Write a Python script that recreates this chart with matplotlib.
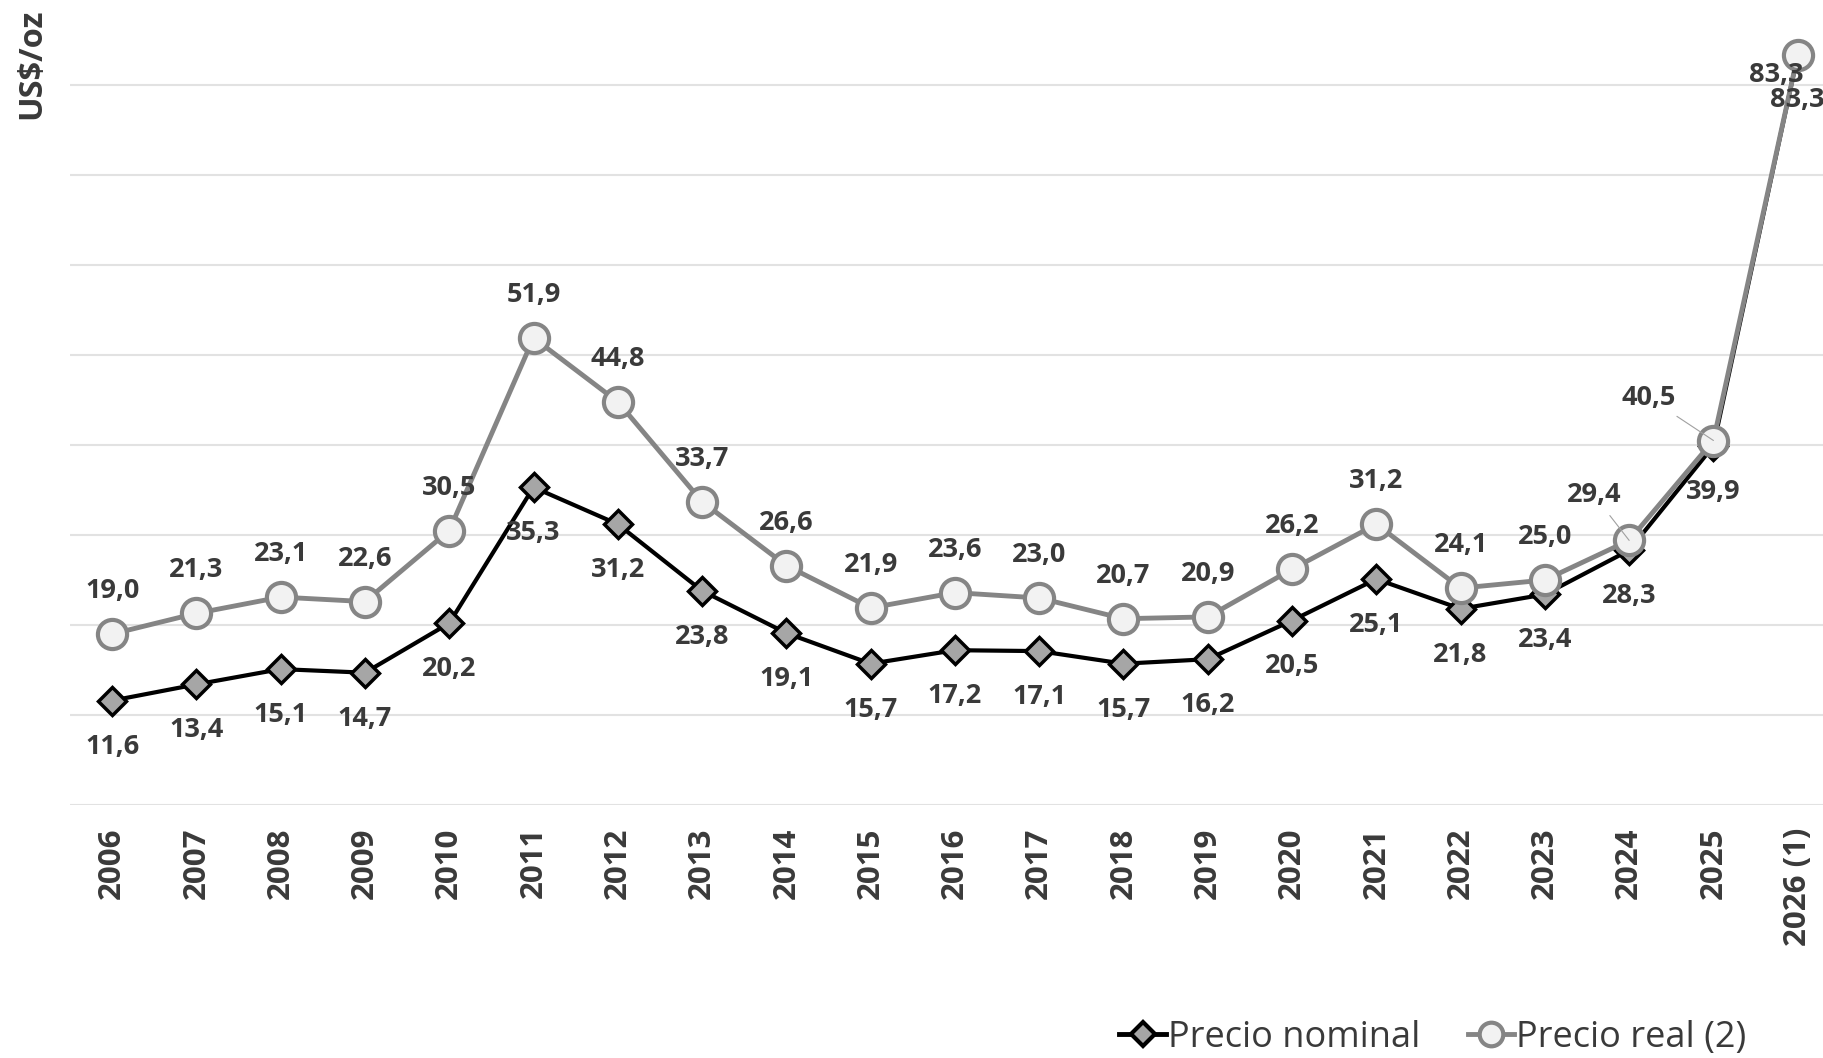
import matplotlib
import matplotlib.pyplot as plt
from matplotlib.lines import Line2D

matplotlib.use('Agg')

years = ['2006', '2007', '2008', '2009', '2010', '2011', '2012', '2013', '2014', '2015',
         '2016', '2017', '2018', '2019', '2020', '2021', '2022', '2023', '2024', '2025',
         '2026 (1)']
nominal = [11.6, 13.4, 15.1, 14.7, 20.2, 35.3, 31.2, 23.8, 19.1, 15.7,
           17.2, 17.1, 15.7, 16.2, 20.5, 25.1, 21.8, 23.4, 28.3, 39.9, 83.3]
real = [19.0, 21.3, 23.1, 22.6, 30.5, 51.9, 44.8, 33.7, 26.6, 21.9,
        23.6, 23.0, 20.7, 20.9, 26.2, 31.2, 24.1, 25.0, 29.4, 40.5, 83.3]

TXT = '#3a3a3a'
plt.rcParams['font.family'] = ['Open Sans', 'DejaVu Sans']

W, H = 1824, 1058
fig = plt.figure(figsize=(W / 100, H / 100), dpi=100)
# axes placed in pixel terms: left 70, bottom (y=0) at 805, 9 px per unit
ax = fig.add_axes([70 / W, (H - 805) / H, 1753 / W, 88 * 9 / H])

x = list(range(len(years)))

ax.plot(x, nominal, color='black', lw=3, marker='D', ms=14, mfc='#a6a6a6',
        mec='black', mew=2.5, zorder=3, clip_on=False)
ax.plot(x, real, color='#858585', lw=3.5, marker='o', ms=21, mfc='#f2f2f2',
        mec='#858585', mew=3, zorder=4, clip_on=False)


def fmt(v):
    return f'{v:.1f}'.replace('.', ',')


# label offsets in pixels (dx, dy), positive dy = up
real_off = {18: (-35, 45), 19: (-65, 43), 20: (-21, -20)}
nom_off = {20: (0, -45)}
leader = {18, 19}

for i, v in enumerate(nominal):
    dx, dy = nom_off.get(i, (0, -46))
    ax.annotate(fmt(v), (i, v), xytext=(dx, dy), textcoords='offset pixels',
                ha='center', va='center', fontsize=19.5, fontweight='bold',
                color=TXT, zorder=6, annotation_clip=False)

for i, v in enumerate(real):
    dx, dy = real_off.get(i, (0, 43))
    ap = None
    if i in leader:
        ap = dict(arrowstyle='-', color='#a0a0a0', lw=0.8, shrinkA=4, shrinkB=0)
    ax.annotate(fmt(v), (i, v), xytext=(dx, dy), textcoords='offset pixels',
                ha='center', va='center', fontsize=19.5, fontweight='bold',
                color=TXT, zorder=6, arrowprops=ap, annotation_clip=False)

ax.set_xlim(-0.5, 20.3)
ax.set_ylim(0, 88)
ax.set_yticks(range(0, 90, 10))
ax.set_yticklabels([])
ax.grid(axis='y', color='#e2e2e2', lw=1.5)
ax.set_axisbelow(True)
for s in ax.spines.values():
    s.set_visible(False)
ax.tick_params(axis='both', length=0)
ax.set_xticks(x)
ax.set_xticklabels(years, rotation=90, fontsize=22.5, fontweight='bold',
                   color=TXT, va='top', ha='center')
ax.tick_params(axis='x', pad=16)

fig.text(32 / W, 1 - 64 / H, 'US$/oz', rotation=90, ha='center', va='center',
         fontsize=23.5, fontweight='bold', color=TXT)

handles = [
    Line2D([], [], color='black', lw=3.5, marker='D', ms=12, mfc='#a6a6a6',
           mec='black', mew=3),
    Line2D([], [], color='#858585', lw=3.5, marker='o', ms=17, mfc='#f2f2f2',
           mec='#858585', mew=3),
]
fig.legend(handles, ['Precio nominal', 'Precio real (2)'], loc='center',
           bbox_to_anchor=(1433 / W, 1 - 1038 / H), ncol=2, frameon=False,
           fontsize=26, handlelength=1.3, handletextpad=0.05, columnspacing=1.3,
           labelcolor=TXT)

fig.savefig('out.png', dpi=100)
